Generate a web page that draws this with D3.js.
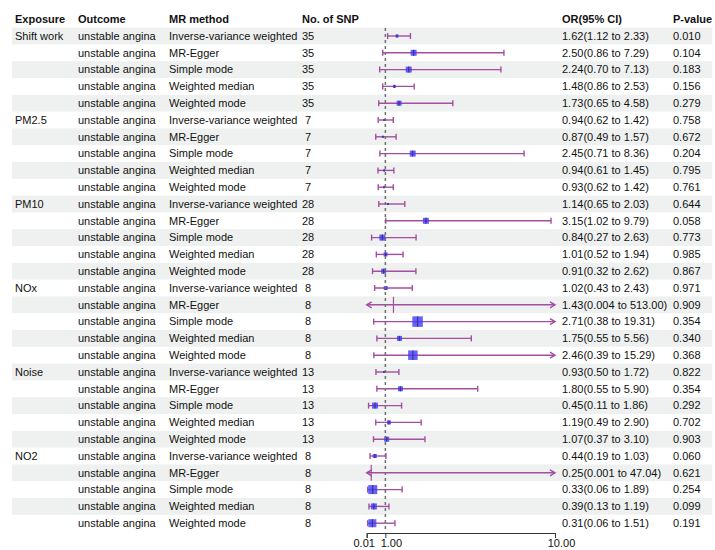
<!doctype html>
<html>
<head>
<meta charset="utf-8">
<title>Forest plot</title>
<script src="https://cdn.jsdelivr.net/npm/d3@7"></script>
<style>
  body { margin: 0; background: #fff; }
  text { font-family: "Liberation Sans", Arial, sans-serif; font-size: 11px; fill: #111; }
  .hdr { font-weight: bold; }
</style>
</head>
<body>
<svg width="715" height="550"></svg>
<script>
var exposures = ["Shift work", "PM2.5", "PM10", "NOx", "Noise", "NO2"];
var snpCount = [35, 7, 28, 8, 13, 8];
var methods = ["Inverse-variance weighted", "MR-Egger", "Simple mode", "Weighted median", "Weighted mode"];
var outcome = "unstable angina";

var orVal = [1.62, 2.50, 2.24, 1.48, 1.73,
             0.94, 0.87, 2.45, 0.94, 0.93,
             1.14, 3.15, 0.84, 1.01, 0.91,
             1.02, 1.43, 2.71, 1.75, 2.46,
             0.93, 1.80, 0.45, 1.19, 1.07,
             0.44, 0.25, 0.33, 0.39, 0.31];
var ciLow = [1.12, 0.86, 0.70, 0.86, 0.65,
             0.62, 0.49, 0.71, 0.61, 0.62,
             0.65, 1.02, 0.27, 0.52, 0.32,
             0.43, 0.004, 0.38, 0.55, 0.39,
             0.50, 0.55, 0.11, 0.49, 0.37,
             0.19, 0.001, 0.06, 0.13, 0.06];
var ciHigh = [2.33, 7.29, 7.13, 2.53, 4.58,
              1.42, 1.57, 8.36, 1.45, 1.42,
              2.03, 9.79, 2.63, 1.94, 2.62,
              2.43, 513.00, 19.31, 5.56, 15.29,
              1.72, 5.90, 1.86, 2.90, 3.10,
              1.03, 47.04, 1.89, 1.19, 1.51];
var pValue = ["0.010", "0.104", "0.183", "0.156", "0.279",
              "0.758", "0.672", "0.204", "0.795", "0.761",
              "0.644", "0.058", "0.773", "0.985", "0.867",
              "0.971", "0.909", "0.354", "0.340", "0.368",
              "0.822", "0.354", "0.292", "0.702", "0.903",
              "0.060", "0.621", "0.254", "0.099", "0.191"];
// relative box weight (0 = no box drawn)
var weight = [0.3, 0.6, 0.6, 0.3, 0.5,
              0.2, 0.2, 0.6, 0.2, 0.2,
              0.2, 0.6, 0.6, 0.4, 0.5,
              0.4, 0, 1.05, 0.5, 0.95,
              0.2, 0.5, 0.6, 0.4, 0.5,
              0.4, 0, 0.9, 0.6, 0.8];
var xTicks = [0.01, 1, 10];

var rows = orVal.map(function(v, i) {
    var g = Math.floor(i / 5), m = i % 5;
    return {
        i: i, exposure: m === 0 ? exposures[g] : "", outcome: outcome,
        method: methods[m], snp: snpCount[g], or: v, lo: ciLow[i], hi: ciHigh[i],
        p: pValue[i], w: weight[i]
    };
});

function fmt(v) { return v < 0.01 ? v.toFixed(3) : v.toFixed(2); }

var svg = d3.select("svg");

var y = d3.scaleBand().domain(d3.range(rows.length)).range([27.6, 27.6 + 16.8 * rows.length]);
var x = d3.scaleLinear().domain([0.01, 10]).range([366.7, 555]);
var boxSize = d3.scaleLinear().domain([0, 1]).range([0, 10]);

var col = { exposure: 15, outcome: 78, method: 169, snp: 308, or: 562, p: 673 };

// row bands
svg.append("g").selectAll("rect")
    .data(rows.filter(function(d) { return d.i % 2 === 0; }))
    .enter().append("rect")
    .attr("x", 12).attr("width", 700)
    .attr("y", function(d) { return y(d.i); })
    .attr("height", y.bandwidth())
    .attr("fill", "#eff1f0");

// header
var hy = 19;
var header = svg.append("g");
[["Exposure", col.exposure], ["Outcome", col.outcome], ["MR method", col.method],
 ["No. of SNP", 302], ["OR(95% CI)", col.or], ["P-value", col.p]]
    .forEach(function(h) {
        header.append("text").attr("class", "hdr").attr("x", h[1]).attr("y", hy).attr("dy", "0.35em")
            .text(h[0]);
    });

// text columns
var tr = svg.append("g").selectAll("g").data(rows).enter().append("g")
    .attr("transform", function(d) { return "translate(0," + (y(d.i) + y.bandwidth() / 2) + ")"; });
tr.append("text").attr("x", col.exposure).attr("dy", "0.35em").text(function(d) { return d.exposure; });
tr.append("text").attr("x", col.outcome).attr("dy", "0.35em").text(function(d) { return d.outcome; });
tr.append("text").attr("x", col.method).attr("dy", "0.35em").text(function(d) { return d.method; });
tr.append("text").attr("x", col.snp).attr("dy", "0.35em").attr("text-anchor", "middle").text(function(d) { return d.snp; });
tr.append("text").attr("x", col.or).attr("dy", "0.35em")
    .text(function(d) { return d.or.toFixed(2) + "(" + fmt(d.lo) + " to " + fmt(d.hi) + ")"; });
tr.append("text").attr("x", col.p).attr("dy", "0.35em").text(function(d) { return d.p; });

// reference line at 1
svg.append("line")
    .attr("x1", x(1)).attr("x2", x(1))
    .attr("y1", 28).attr("y2", 532)
    .attr("stroke", "#707070").attr("stroke-width", 1.5).attr("stroke-dasharray", "3,3");

// CI lines
var lineCol = "#a44ea1";
var ci = tr.append("g").attr("stroke", lineCol).attr("stroke-width", 1.4).attr("fill", "none");
ci.append("line")
    .attr("x1", function(d) { return x(Math.max(d.lo, 0.01)); })
    .attr("x2", function(d) { return x(Math.min(d.hi, 10)); });
ci.each(function(d) {
    var g = d3.select(this);
    var xl = x(Math.max(d.lo, 0.01)), xh = x(Math.min(d.hi, 10));
    if (d.lo < 0.01) {
        g.append("polyline").attr("points", (xl + 5) + ",-3 " + xl + ",0 " + (xl + 5) + ",3");
    } else {
        g.append("line").attr("x1", xl).attr("x2", xl).attr("y1", -3).attr("y2", 3);
    }
    if (d.hi > 10) {
        g.append("polyline").attr("points", (xh - 5) + ",-3 " + xh + ",0 " + (xh - 5) + ",3");
    } else {
        g.append("line").attr("x1", xh).attr("x2", xh).attr("y1", -3).attr("y2", 3);
    }
});

// boxes
tr.filter(function(d) { return d.w > 0; }).append("rect")
    .attr("x", function(d) { return x(d.or) - boxSize(d.w) / 2; })
    .attr("y", function(d) { return -boxSize(d.w) / 2; })
    .attr("width", function(d) { return boxSize(d.w); })
    .attr("height", function(d) { return boxSize(d.w); })
    .attr("fill", "#3d3dfb").attr("fill-opacity", 0.8);
tr.append("line")
    .attr("x1", function(d) { return x(d.or); }).attr("x2", function(d) { return x(d.or); })
    .attr("y1", function(d) { return d.w > 0 ? -boxSize(d.w) / 2 : -8; })
    .attr("y2", function(d) { return d.w > 0 ? boxSize(d.w) / 2 : 8; })
    .attr("stroke", function(d) { return d.w > 0 ? "#4a2a9a" : lineCol; })
    .attr("stroke-width", 1.2);

// x axis
var labelShift = { 0.01: -3, 1: 5.5, 10: 6 };
var ax = svg.append("g")
    .attr("transform", "translate(0,533)")
    .call(d3.axisBottom(x).tickValues(xTicks).tickSizeOuter(0).tickSize(5)
        .tickFormat(function(d) { return d.toFixed(2); }));
ax.select(".domain").attr("stroke", "#333");
ax.selectAll(".tick line").attr("stroke", "#333");
ax.selectAll(".tick text")
    .style("font-size", "11px").attr("fill", "#111").attr("dy", "0.55em")
    .attr("dx", function(d) { return labelShift[d]; });
</script>
</body>
</html>
